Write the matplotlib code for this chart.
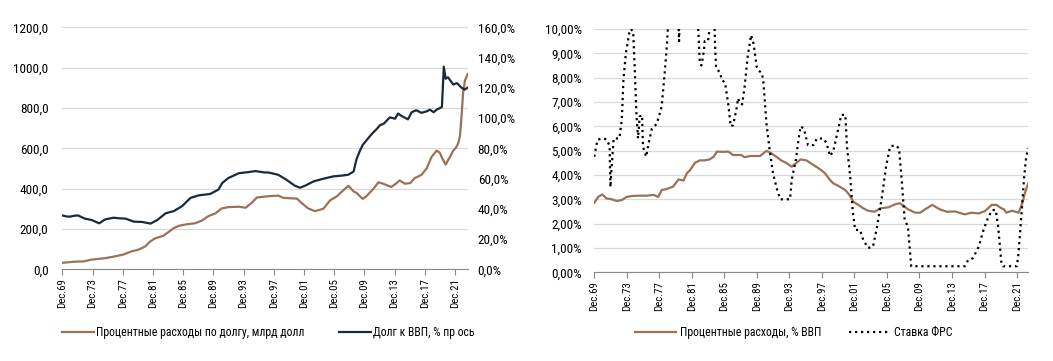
import matplotlib
matplotlib.use("Agg")
import matplotlib.pyplot as plt
from matplotlib.ticker import FuncFormatter

plt.rcParams["font.family"] = ["Liberation Sans Narrow", "Roboto Condensed", "Liberation Sans", "DejaVu Sans"]

# ---- left chart: interest expense (bn USD) and debt/GDP (%)
int_bn_t = [1969.92, 1971.6, 1972.7, 1973.8, 1975.6, 1976.9, 1978.0, 1979.1, 1980.0, 1980.9,
            1981.5, 1982.2, 1983.3, 1984.0, 1984.6, 1985.3, 1986.4, 1987.5, 1988.4, 1989.3,
            1990.2, 1991.0, 1991.9, 1993.3, 1994.2, 1995.0, 1995.7, 1997.2, 1998.5, 1999.2,
            2001.0, 2001.6, 2002.5, 2003.4, 2004.5, 2005.4, 2006.3, 2007.1, 2007.8, 2008.5,
            2008.9, 2009.7, 2010.2, 2011.1, 2011.8, 2012.4, 2013.5, 2014.2, 2014.6, 2015.3,
            2016.0, 2016.6, 2017.5, 2018.2, 2018.8, 2019.5, 2019.9, 2020.4, 2020.7, 2021.3,
            2021.7, 2022.1, 2022.4, 2022.6, 2022.8, 2023.0, 2023.25, 2023.6]
int_bn = [33, 39, 40, 49, 56, 65, 74, 90, 98, 114,
          137, 154, 167, 186, 203, 216, 224, 229, 242, 265,
          278, 302, 309, 311, 306, 330, 357, 363, 366, 355,
          351, 330, 302, 289, 301, 343, 363, 391, 415, 387,
          379, 350, 363, 399, 432, 425, 409, 428, 441, 425,
          428, 453, 469, 502, 556, 589, 579, 540, 520, 560,
          589, 605, 630, 665, 760, 872, 936, 968]

debt_t = [1969.92, 1970.5, 1970.9, 1971.5, 1972.0, 1972.9, 1973.8, 1974.8, 1975.6, 1976.7,
          1977.5, 1978.3, 1979.4, 1980.5, 1981.6, 1982.5, 1983.6, 1984.7, 1985.8, 1986.9,
          1988.0, 1989.5, 1990.6, 1991.1, 1991.9, 1993.3, 1994.5, 1995.5, 1996.7, 1997.2,
          1998.5, 1999.6, 2000.7, 2001.4, 2002.1, 2003.2, 2004.3, 2005.8, 2007.1, 2007.8,
          2008.5, 2008.9, 2009.3, 2009.7, 2010.4, 2011.0, 2011.6, 2012.0, 2012.5, 2013.3,
          2014.0, 2014.4, 2014.9, 2015.7, 2016.2, 2016.8, 2017.5, 2018.2, 2018.6, 2019.1,
          2019.5, 2020.2, 2020.45, 2020.7, 2021.0, 2021.7, 2022.2, 2022.8, 2023.2, 2023.6]
debt_pct = [35.7, 35.0, 34.9, 35.5, 35.7, 33.6, 32.7, 30.5, 33.1, 34.2,
            33.8, 33.6, 31.6, 31.4, 30.3, 32.7, 37.1, 38.6, 41.9, 47.3,
            49.0, 49.9, 52.8, 57.1, 60.4, 63.6, 64.3, 65.0, 64.1, 64.1,
            62.6, 59.3, 55.4, 54.0, 55.4, 58.2, 59.7, 61.5, 62.1, 62.6,
            64.7, 73.0, 78.0, 82.2, 86.5, 90.0, 93.0, 95.3, 96.3, 100.5,
            99.6, 103.0, 101.3, 99.2, 103.9, 105.2, 103.5, 104.5, 105.6, 103.9,
            105.6, 107.3, 134.0, 126.0, 127.0, 122.2, 123.1, 120.1, 118.8, 120.1]

# ---- right chart: interest expense % GDP and Fed rate
int_gdp_t = [1969.92, 1970.4, 1970.9, 1971.4, 1972.05, 1972.7, 1973.3, 1973.9, 1974.7, 1975.5,
             1976.4, 1977.2, 1977.8, 1978.2, 1978.8, 1979.6, 1980.3, 1980.9, 1981.3, 1981.7,
             1982.3, 1982.9, 1983.5, 1984.1, 1984.6, 1985.0, 1985.8, 1986.4, 1987.0, 1988.0,
             1988.4, 1989.1, 1990.3, 1991.1, 1991.7, 1992.3, 1992.9, 1993.5, 1994.2, 1994.6,
             1995.3, 1996.0, 1996.7, 1997.7, 1998.3, 1998.9, 1999.3, 1999.9, 2000.8, 2001.3,
             2001.8, 2002.4, 2003.0, 2003.6, 2004.4, 2005.1, 2006.1, 2006.9, 2007.5, 2008.1,
             2008.5, 2009.4, 2010.0, 2010.8, 2011.5, 2012.4, 2013.3, 2014.3, 2015.5, 2016.3,
             2017.2, 2018.0, 2018.8, 2019.4, 2020.0, 2020.3, 2020.6, 2021.3, 2022.1, 2022.5,
             2023.0, 2023.3]
int_gdp = [2.86, 3.10, 3.20, 3.04, 3.00, 2.93, 2.97, 3.10, 3.14, 3.15,
           3.15, 3.18, 3.10, 3.38, 3.42, 3.52, 3.82, 3.77, 4.07, 4.20,
           4.50, 4.60, 4.60, 4.64, 4.75, 4.96, 4.95, 4.96, 4.82, 4.82,
           4.73, 4.78, 4.78, 4.99, 4.89, 4.75, 4.60, 4.50, 4.34, 4.45,
           4.64, 4.60, 4.45, 4.23, 4.07, 3.80, 3.66, 3.56, 3.38, 3.18,
           2.90, 2.77, 2.63, 2.53, 2.49, 2.63, 2.67, 2.79, 2.84, 2.70,
           2.59, 2.45, 2.45, 2.63, 2.77, 2.59, 2.49, 2.50, 2.38, 2.45,
           2.42, 2.52, 2.77, 2.77, 2.63, 2.59, 2.45, 2.53, 2.45, 2.77,
           3.38, 3.66]

fed_t = [1969.92, 1970.3, 1970.8, 1971.4, 1971.8, 1971.9, 1972.05, 1972.3, 1973.0, 1973.3,
         1973.5, 1973.8, 1974.2, 1974.4, 1974.7, 1974.9, 1975.1, 1975.3, 1975.5, 1975.8,
         1975.9, 1976.3, 1976.6, 1977.0, 1977.6, 1978.2, 1978.5, 1978.8, 1979.0, 1979.5,
         1980.0, 1980.35, 1980.6, 1981.0, 1982.0, 1982.5, 1982.7, 1982.9, 1983.1, 1983.4,
         1983.5, 1983.9, 1984.1, 1984.5, 1984.7, 1984.8, 1984.9, 1985.4, 1985.6, 1986.0,
         1986.4, 1986.7, 1987.0, 1987.4, 1987.6, 1987.8, 1988.1, 1988.4, 1988.8, 1989.2,
         1989.5, 1989.9, 1990.1, 1990.5, 1990.7, 1991.1, 1991.5, 1991.9, 1992.4, 1992.8,
         1994.0, 1994.2, 1994.7, 1995.1, 1995.3, 1995.7, 1996.2, 1996.9, 1997.3, 1998.1,
         1998.5, 1998.9, 1999.3, 1999.8, 2000.3, 2000.8, 2001.0, 2001.4, 2001.7, 2002.0,
         2002.6, 2003.0, 2003.6, 2004.2, 2004.7, 2005.3, 2005.8, 2006.3, 2006.9, 2007.4,
         2007.7, 2008.1, 2008.5, 2008.9, 2015.5, 2015.9, 2016.5, 2017.2, 2017.8, 2018.4,
         2018.9, 2019.3, 2019.6, 2020.0, 2020.2, 2021.9, 2022.1, 2022.5, 2022.8, 2023.0,
         2023.25]
fed = [4.75, 5.44, 5.50, 5.47, 5.20, 3.50, 4.30, 5.50, 5.50, 6.26,
       7.90, 9.00, 9.80, 10.0, 9.90, 8.30, 6.50, 5.50, 6.40, 6.46,
       5.16, 4.75, 5.30, 5.90, 6.10, 6.80, 7.90, 9.10, 10.2, 11.0,
       13.0, 9.50, 13.0, 13.0, 12.0, 10.5, 10.0, 8.60, 8.50, 9.10,
       9.50, 9.50, 10.0, 10.5, 10.2, 9.10, 8.40, 8.20, 7.90, 7.80,
       6.90, 6.00, 6.05, 6.70, 7.15, 6.95, 6.90, 7.60, 8.90, 9.75,
       9.40, 8.45, 8.30, 8.20, 7.90, 6.10, 5.00, 4.07, 3.40, 3.00,
       3.00, 3.80, 4.60, 5.60, 6.00, 5.90, 5.23, 5.23, 5.50, 5.50,
       5.30, 4.78, 4.96, 5.70, 6.47, 6.47, 5.16, 3.93, 2.56, 1.74,
       1.74, 1.33, 1.00, 1.05, 1.88, 3.10, 4.34, 5.16, 5.23, 5.10,
       3.93, 2.15, 1.88, 0.25, 0.25, 0.50, 0.58, 1.05, 1.74, 2.29,
       2.56, 2.56, 1.88, 0.37, 0.25, 0.25, 0.78, 2.56, 3.93, 4.60,
       5.10]

tick_years = list(range(1969, 2022, 4))
tick_labels = ["Dec.%02d" % (y % 100) for y in tick_years]

BROWN = "#9b7157"
NAVY = "#1b2a38"
GRID = "#d9d9d9"


def comma_fmt(decimals, suffix=""):
    return FuncFormatter(lambda v, _: ("%.*f" % (decimals, v)).replace(".", ",") + suffix)


def style_axes(ax, x_end):
    ax.set_xlim(1969.92, x_end)
    ax.set_xticks([y + 0.92 for y in tick_years])
    ax.set_xticklabels(tick_labels, rotation=90, fontsize=7.8)
    ax.tick_params(axis="x", length=4, width=0.8, color="#888888", pad=2)
    ax.tick_params(axis="y", length=0, labelsize=9.5)
    for s in ["top", "right", "left"]:
        ax.spines[s].set_visible(False)
    ax.spines["bottom"].set_color("#888888")
    ax.spines["bottom"].set_linewidth(0.8)
    ax.grid(axis="y", color=GRID, linewidth=0.9)
    ax.set_axisbelow(True)


def main():
    fig = plt.figure(figsize=(10.53, 3.61), dpi=100)

    # left chart
    ax = fig.add_axes([0.0592, 0.2535, 0.3852, 0.6709])
    style_axes(ax, 2023.65)
    ax.set_ylim(0, 1200)
    ax.set_yticks(range(0, 1201, 200))
    ax.yaxis.set_major_formatter(comma_fmt(1))
    ax.tick_params(axis="y", pad=10)
    l1, = ax.plot(int_bn_t, int_bn, color=BROWN, lw=1.6)

    ax2 = ax.twinx()
    ax2.set_ylim(0, 160)
    ax2.set_yticks(range(0, 161, 20))
    ax2.yaxis.set_major_formatter(comma_fmt(1, "%"))
    ax2.tick_params(axis="y", length=0, labelsize=9.5, pad=7)
    for s in ax2.spines.values():
        s.set_visible(False)
    l2, = ax2.plot(debt_t, debt_pct, color=NAVY, lw=1.6)

    ax.legend([l1, l2], ["Процентные расходы по долгу, млрд долл", "Долг к ВВП, % пр ось"],
              loc="center left", bbox_to_anchor=(0.059, 0.078), bbox_transform=fig.transFigure,
              ncol=2, frameon=False, fontsize=8.5, handlelength=2.7, handletextpad=0.2,
              columnspacing=2.9, borderpad=0, borderaxespad=0)

    # right chart
    bx = fig.add_axes([0.5644, 0.2457, 0.4121, 0.6740])
    style_axes(bx, 2023.3)
    bx.set_ylim(0, 10)
    bx.set_yticks(range(0, 11))
    bx.yaxis.set_major_formatter(comma_fmt(2, "%"))
    bx.tick_params(axis="y", pad=9)
    r1, = bx.plot(int_gdp_t, int_gdp, color=BROWN, lw=1.6)
    r2, = bx.plot(fed_t, fed, color="black", lw=1.6, linestyle=(0, (1, 1.7)))

    bx.legend([r1, r2], ["Процентные расходы, % ВВП", "Ставка ФРС"],
              loc="center left", bbox_to_anchor=(0.603, 0.078), bbox_transform=fig.transFigure,
              ncol=2, frameon=False, fontsize=8.5, handlelength=3.5, handletextpad=0.35,
              columnspacing=2.3, borderpad=0, borderaxespad=0)

    fig.savefig("out.png", dpi=100)
    plt.close(fig)


if __name__ == "__main__":
    main()
